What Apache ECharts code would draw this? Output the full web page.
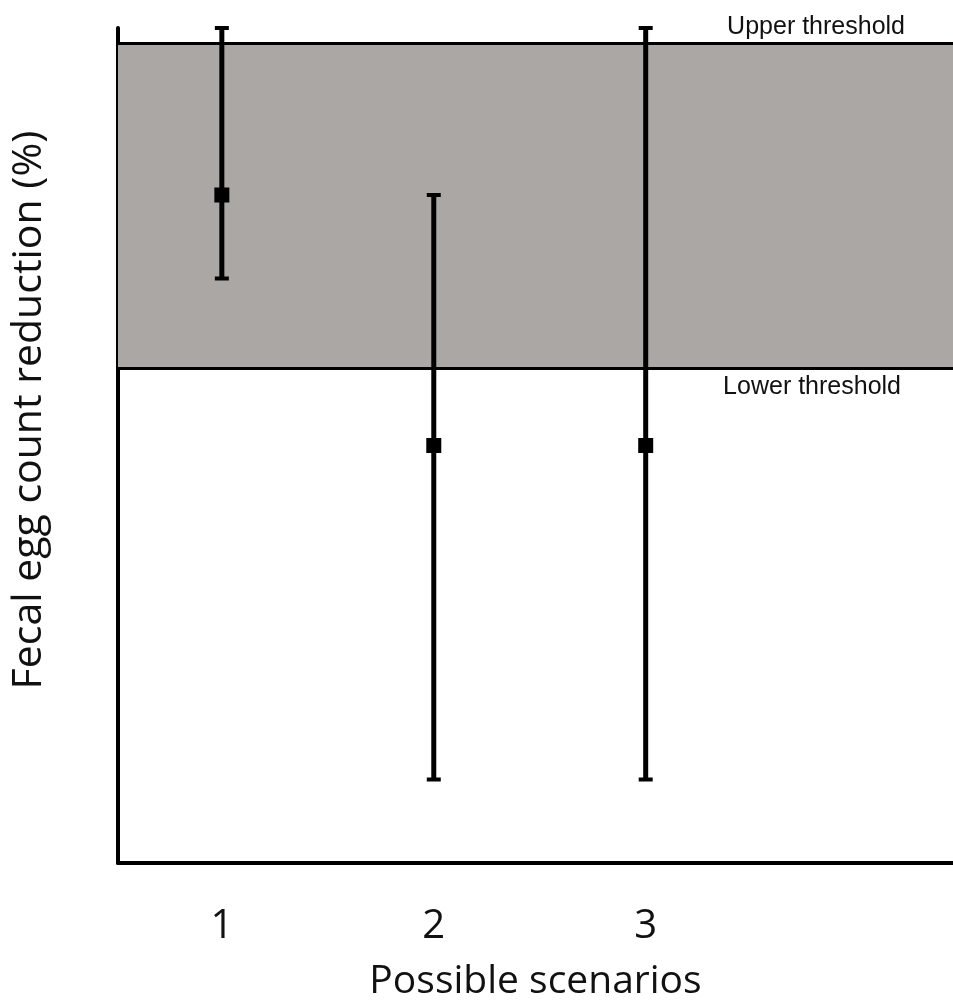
<!DOCTYPE html>
<html>
<head>
<meta charset="utf-8">
<script src="https://cdn.jsdelivr.net/npm/echarts@6/dist/echarts.min.js"></script>
<style>
html,body{margin:0;padding:0;background:#fff;overflow:hidden;width:953px;height:1006px;}
#chart{width:953px;height:1006px;display:block;}
</style>
</head>
<body><div id="chart"></div>
<script>
// ---- data ----
const scenarios = [1, 2, 3];
const means = [80, 50, 50];
const lowers = [70, 10, 10];
const uppers = [100, 80, 100];
const upperThreshold = 98.2;
const lowerThreshold = 59.3;
const xTickLabels = [1, 2, 3];
const thresholdLabels = ['Upper threshold', 'Lower threshold'];

const chart = echarts.init(document.getElementById('chart'), null, {renderer: 'canvas', width: 953, height: 1006});

const errorData = scenarios.map((s, i) => [s, lowers[i], uppers[i]]);
const meanData = scenarios.map((s, i) => [s, means[i]]);

const option = {
  backgroundColor: '#ffffff',
  animation: false,
  grid: {left: 118, right: 0, top: 28, bottom: 137, containLabel: false},
  xAxis: {
    type: 'value',
    min: 0.51,
    max: 4.45,
    name: 'Possible scenarios',
    nameLocation: 'middle',
    nameGap: 99,
    nameTextStyle: {fontFamily: 'Open Sans', fontSize: 39, color: '#111'},
    axisLine: {show: true, onZero: false, lineStyle: {color: '#000', width: 4}},
    axisTick: {show: false},
    splitLine: {show: false},
    axisLabel: {
      customValues: xTickLabels,
      margin: 44,
      fontFamily: 'Open Sans',
      fontSize: 40,
      color: '#111'
    }
  },
  yAxis: {
    type: 'value',
    min: 0,
    max: 100,
    name: 'Fecal egg count reduction (%)',
    nameLocation: 'middle',
    nameRotate: 90,
    nameGap: 68,
    nameTextStyle: {fontFamily: 'Open Sans', fontSize: 41, color: '#111', padding: [0, 0, 0, 71]},
    axisLine: {show: true, onZero: false, lineStyle: {color: '#000', width: 4}},
    axisTick: {show: false},
    axisLabel: {show: false},
    splitLine: {show: false}
  },
  series: [
    {
      type: 'line',
      data: [],
      silent: true,
      markArea: {
        silent: true,
        itemStyle: {color: '#aba7a5'},
        data: [[{yAxis: lowerThreshold}, {yAxis: upperThreshold}]]
      },
      markLine: {
        silent: true,
        symbol: 'none',
        lineStyle: {color: '#000', width: 3, type: 'solid'},
        label: {
          show: true,
          fontFamily: 'Liberation Sans',
          fontSize: 25,
          color: '#111'
        },
        data: [
          {yAxis: upperThreshold, label: {position: 'insideEndTop', formatter: thresholdLabels[0], padding: [0, 45, 0, 0], distance: 3}},
          {yAxis: lowerThreshold, label: {position: 'insideEndBottom', formatter: thresholdLabels[1], padding: [0, 45, 0, 0], distance: 7}}
        ]
      }
    },
    {
      type: 'custom',
      data: errorData,
      z: 5,
      renderItem: function (params, api) {
        const x = api.value(0);
        const lo = api.coord([x, api.value(1)]);
        const hi = api.coord([x, api.value(2)]);
        const half = 7;
        const st = {stroke: '#000', lineWidth: 5};
        const cap = {stroke: '#000', lineWidth: 4};
        return {
          type: 'group',
          children: [
            {type: 'line', shape: {x1: lo[0], y1: lo[1], x2: hi[0], y2: hi[1]}, style: st},
            {type: 'line', shape: {x1: hi[0] - half, y1: hi[1], x2: hi[0] + half, y2: hi[1]}, style: cap},
            {type: 'line', shape: {x1: lo[0] - half, y1: lo[1], x2: lo[0] + half, y2: lo[1]}, style: cap}
          ]
        };
      }
    },
    {
      type: 'scatter',
      data: meanData,
      z: 6,
      symbol: 'rect',
      symbolSize: 15,
      itemStyle: {color: '#000', opacity: 1}
    }
  ]
};
chart.setOption(option);
</script>
</body>
</html>
